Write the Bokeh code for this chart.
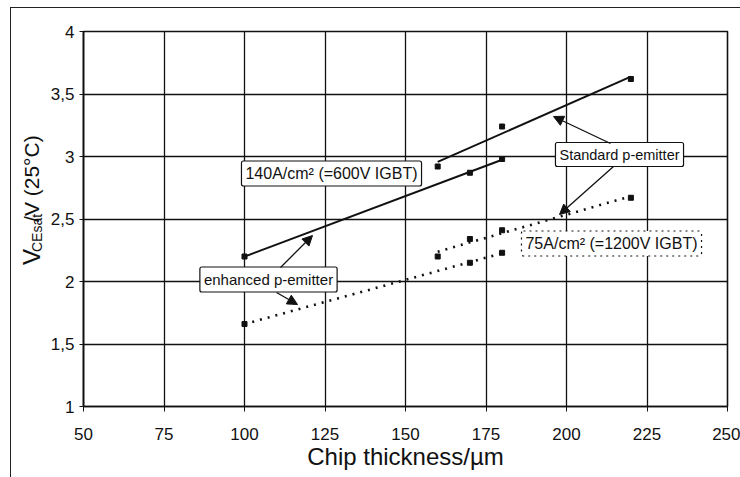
import numpy as np
from bokeh.plotting import figure
from bokeh.layouts import row
from bokeh.models import Label, Arrow, NormalHead, Range1d
from bokeh.core.properties import value
from bokeh.embed import file_html
from bokeh.resources import INLINE

# ---- data ----
x_ticks = [50, 75, 100, 125, 150, 175, 200, 225, 250]
y_ticks = [1, 1.5, 2, 2.5, 3, 3.5, 4]
y_tick_labels = {1.5: "1,5", 2.5: "2,5", 3.5: "3,5"}

thk_140_std = [160, 180, 220]
vce_140_std = [2.92, 3.24, 3.62]
thk_140_enh = [100, 170, 180]
vce_140_enh = [2.20, 2.87, 2.98]
thk_75_std = [160, 170, 180, 220]
vce_75_std = [2.20, 2.34, 2.41, 2.67]
thk_75_enh = [100, 170, 180]
vce_75_enh = [1.66, 2.15, 2.23]

y_label_parts = ["V", "CEsat", "/V (25°C)"]

FONT = "Liberation Sans"
INK = "#111111"

# layout (window pixels)
OX, OY = 11, 8            # content origin inside the outer border
TOTAL_W, TOTAL_H = 729, 469
LAB_W = 34
FL, FR, FT, FB = 83, 727, 31, 406
XMIN, XMAX, YMIN, YMAX = 50, 250, 1, 4


def dx(px):
    return XMIN + (px - FL) * (XMAX - XMIN) / (FR - FL)


def dy(py):
    return YMAX - (py - FT) * (YMAX - YMIN) / (FB - FT)


# ---- narrow panel carrying the rotated y-axis title ----
lab = figure(width=LAB_W, height=TOTAL_H, x_range=Range1d(0, LAB_W), y_range=Range1d(0, TOTAL_H),
             output_backend="svg", toolbar_location=None, x_axis_location=None,
             y_axis_location=None, min_border=0)
lab.outline_line_color = None
lab.grid.visible = False
lab.background_fill_color = "white"
lab.border_fill_color = "white"


def lx(wx):
    return wx - OX


def ly(wy):
    return TOTAL_H - (wy - OY)


for txt, (cx, cy), size in zip(y_label_parts,
                               [(31, 290), (36.5, 260), (31, 192)],
                               ["24px", "14px", "21px"]):
    lab.text(x=[lx(cx)], y=[ly(cy)], text=[txt], angle=np.pi / 2,
             text_font=value(FONT), text_font_size=size, text_color=INK,
             text_align="center", text_baseline="middle")

# ---- main chart ----
p = figure(width=TOTAL_W - LAB_W, height=TOTAL_H, x_range=Range1d(XMIN, XMAX),
           y_range=Range1d(YMIN, YMAX), output_backend="svg", toolbar_location=None,
           min_border_left=FL - OX - LAB_W, min_border_right=740 - FR,
           min_border_top=FT - OY, min_border_bottom=477 - FB)
p.background_fill_color = "white"
p.border_fill_color = "white"
p.outline_line_color = INK
p.outline_line_width = 1.6

p.xaxis.ticker = x_ticks
p.yaxis.ticker = y_ticks
p.yaxis.major_label_overrides = y_tick_labels
for ax in (p.xaxis[0], p.yaxis[0]):
    ax.axis_line_color = INK
    ax.axis_line_width = 1.6
    ax.major_tick_line_color = INK
    ax.major_tick_in = 0
    ax.major_tick_out = 5
    ax.minor_tick_line_color = None
    ax.major_label_text_font = FONT
    ax.major_label_text_font_size = "17px"
    ax.major_label_text_color = INK
p.yaxis.major_tick_out = 4
p.xaxis.major_label_standoff = 16
p.yaxis.major_label_standoff = 5
p.yaxis.axis_label_standoff = 0
p.xaxis.axis_label = "Chip thickness/µm"
p.xaxis.axis_label_text_font = FONT
p.xaxis.axis_label_text_font_size = "24px"
p.xaxis.axis_label_text_font_style = "normal"
p.xaxis.axis_label_text_color = INK
p.xaxis.axis_label_standoff = 0

for g in (p.xgrid[0], p.ygrid[0]):
    g.grid_line_color = INK
    g.grid_line_width = 1.3

# ---- series: points and their linear trend lines ----
series = [
    (thk_140_std, vce_140_std, None),
    (thk_140_enh, vce_140_enh, None),
    (thk_75_std, vce_75_std, "2 6"),
    (thk_75_enh, vce_75_enh, "2 6"),
]
for xs, ys, dash in series:
    k = np.polyfit(xs, ys, 1)
    tx = [min(xs), max(xs)]
    ty = list(np.polyval(k, tx))
    if dash is None:
        p.line(tx, ty, line_color=INK, line_width=2)
    else:
        p.line(tx, ty, line_color=INK, line_width=2.6, line_dash=dash)
    p.scatter(xs, ys, marker="square", size=5, color=INK)


# ---- annotation boxes ----
def box(cx, cy, text, size, dash="solid"):
    p.add_layout(Label(x=dx(cx), y=dy(cy), text=text, text_font=FONT, text_font_size=size,
                       text_color=INK, text_align="center", text_baseline="middle",
                       background_fill_color="white", border_line_color=INK,
                       border_line_width=1.2, border_line_dash=dash, padding=4,
                       border_radius=2))


box(331, 173, "140A/cm² (=600V IGBT)", "16px")
box(619, 154, "Standard p-emitter", "14.5px")
box(268, 279, "enhanced p-emitter", "15px")
box(611, 243, "75A/cm² (=1200V IGBT)", "16px", dash="dotted")

# ---- arrows ----
arrows = [
    ((610, 143), (553, 116)),
    ((613, 166), (559, 214)),
    ((280, 267), (312, 235)),
    ((276, 292), (297, 304)),
]
for (sx, sy), (ex, ey) in arrows:
    p.add_layout(Arrow(x_start=dx(sx), y_start=dy(sy), x_end=dx(ex), y_end=dy(ey),
                       line_color=INK, line_width=1.3,
                       end=NormalHead(size=10, fill_color=INK, line_color=INK)))

layout = row(lab, p, spacing=0)
layout.margin = (7, 0, 0, 10)
layout.styles = {"border-top": "1px solid #222", "border-left": "1px solid #222"}

open("out.html", "w").write(file_html(layout, INLINE))
